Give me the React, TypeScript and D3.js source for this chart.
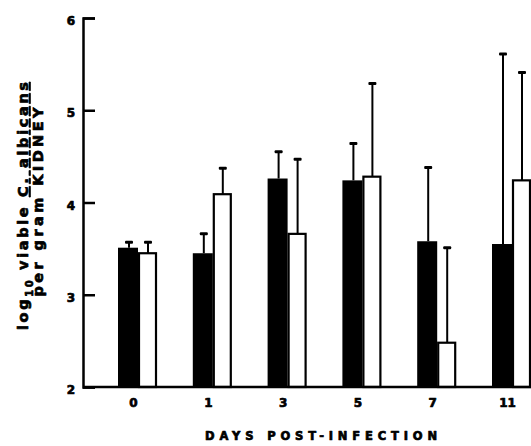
import React, { useEffect, useRef } from 'react';
import * as d3 from 'd3';

// days post-infection
const days = ['0', '1', '3', '5', '7', '11'];
// solid bars
const solidMeans = [3.51, 3.45, 4.26, 4.24, 3.58, 3.55];
const solidErrors = [0.06, 0.21, 0.29, 0.4, 0.8, 2.06];
// open bars
const openMeans = [3.45, 4.09, 3.66, 4.28, 2.48, 4.24];
const openErrors = [0.12, 0.28, 0.81, 1.01, 1.03, 1.17];
const yTicks = [2, 3, 4, 5, 6];

const FONT = '"DejaVu Sans", "Liberation Sans", sans-serif';

const App = () => {
  const svgRef = useRef<SVGSVGElement>(null);

  useEffect(() => {
    const width = 531;
    const height = 446;
    const baseY = 387;
    const axisX = 83;

    const svg = d3.select(svgRef.current).attr('width', width).attr('height', height);
    svg.selectAll('*').remove();

    const x = d3.scalePoint<string>().domain(days).range([138, 512]);
    const y = d3.scaleLinear().domain([2, 6]).range([baseY, 18]);

    const solidW = 20;
    const openW = 19;

    const solid = days.map((d, i) => ({ d, m: solidMeans[i], e: solidErrors[i] }));
    const open = days.map((d, i) => ({ d, m: openMeans[i], e: openErrors[i] }));

    // heavy "scanned" lettering
    const heavy = (sel, size) =>
      sel
        .attr('font-family', FONT)
        .attr('font-weight', 'bold')
        .attr('font-size', size)
        .attr('stroke', '#000')
        .attr('stroke-width', 0.7)
        .attr('stroke-linejoin', 'round');

    // error bars (drawn first so bar tops cover line start)
    const drawErrors = (data, cxFn) => {
      const g = svg.append('g');
      g.selectAll('line.err')
        .data(data)
        .join('line')
        .attr('x1', cxFn)
        .attr('x2', cxFn)
        .attr('y1', item => y(item.m))
        .attr('y2', item => y(item.m + item.e))
        .attr('stroke', '#000')
        .attr('stroke-width', 2);
      g.selectAll('rect.cap')
        .data(data)
        .join('rect')
        .attr('x', item => cxFn(item) - 4)
        .attr('y', item => y(item.m + item.e) - 1.5)
        .attr('width', 8)
        .attr('height', 3)
        .attr('rx', 1)
        .attr('fill', '#000');
    };

    drawErrors(solid, item => x(item.d) - solidW / 2 + 1);
    drawErrors(open, item => x(item.d) + openW / 2 + 0.5);

    // solid bars
    svg.append('g')
      .selectAll('rect')
      .data(solid)
      .join('rect')
      .attr('x', item => x(item.d) - solidW)
      .attr('y', item => y(item.m))
      .attr('width', solidW)
      .attr('height', item => baseY - y(item.m))
      .attr('fill', '#000');

    // open bars
    svg.append('g')
      .selectAll('rect')
      .data(open)
      .join('rect')
      .attr('x', item => x(item.d) + 1)
      .attr('y', item => y(item.m))
      .attr('width', openW - 2)
      .attr('height', item => baseY - y(item.m))
      .attr('fill', '#fff')
      .attr('stroke', '#000')
      .attr('stroke-width', 2.2);

    // baseline
    svg.append('line')
      .attr('x1', axisX)
      .attr('x2', width)
      .attr('y1', baseY)
      .attr('y2', baseY)
      .attr('stroke', '#000')
      .attr('stroke-width', 2.5);

    // y axis
    const yAxis = svg.append('g')
      .attr('transform', `translate(${axisX}, 0)`)
      .call(
        d3.axisLeft(y)
          .tickValues(yTicks)
          .tickSizeInner(-12)
          .tickSizeOuter(-12)
          .tickPadding(8)
          .tickFormat(d3.format('d'))
      );
    yAxis.select('.domain').attr('stroke-width', 2.5);
    yAxis.selectAll('.tick line').attr('stroke-width', 2.5);
    heavy(yAxis.selectAll('.tick text'), 12).attr('dy', '0.55em');

    // x axis labels
    const xAxis = svg.append('g')
      .attr('transform', `translate(-5, ${baseY})`)
      .call(d3.axisBottom(x).tickSize(0).tickPadding(11));
    xAxis.select('.domain').remove();
    heavy(xAxis.selectAll('.tick text'), 12);

    // x title
    heavy(svg.append('text'), 11.5)
      .attr('x', 321)
      .attr('y', 440)
      .attr('text-anchor', 'middle')
      .attr('textLength', 232)
      .attr('lengthAdjust', 'spacing')
      .text('DAYS POST-INFECTION');

    // y title, line 1
    const t1 = heavy(svg.append('text'), 14.5)
      .attr('transform', 'translate(28, 206) rotate(-90)')
      .attr('text-anchor', 'middle')
      .attr('textLength', 248)
      .attr('lengthAdjust', 'spacing');
    t1.append('tspan').text('log');
    t1.append('tspan').attr('font-size', 10).attr('dy', 5).text('10');
    t1.append('tspan').attr('dy', -5).text(' viable ');
    t1.append('tspan').attr('text-decoration', 'underline').text('C. albicans');

    // y title, line 2
    heavy(svg.append('text'), 14.5)
      .attr('transform', 'translate(43, 202) rotate(-90)')
      .attr('text-anchor', 'middle')
      .attr('textLength', 189)
      .attr('lengthAdjust', 'spacing')
      .text('per gram KIDNEY');
  }, []);

  return (
    <svg
      ref={svgRef}
      style={{ position: 'absolute', left: 0, top: 0, background: '#fff' }}
    ></svg>
  );
};

export default App;
